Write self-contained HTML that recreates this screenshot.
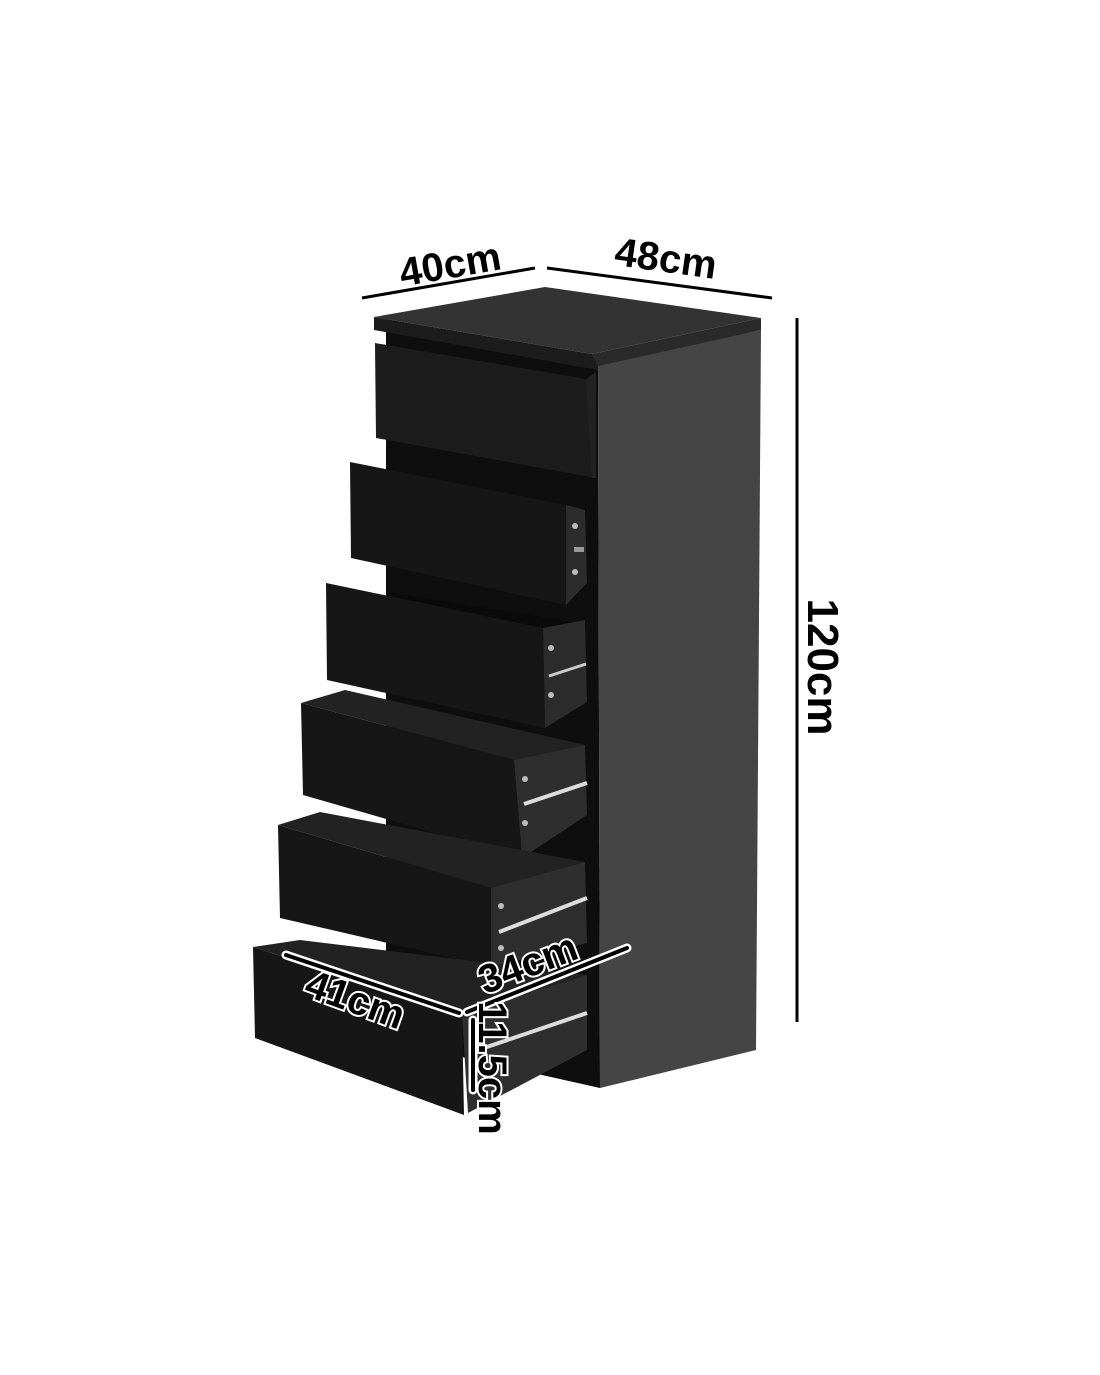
<!DOCTYPE html>
<html><head><meta charset="utf-8"><style>
html,body{margin:0;padding:0;background:#fff;}
svg{display:block;}
text{font-family:"Liberation Sans",sans-serif;font-weight:bold;}
</style></head><body>
<svg width="1100" height="1375" viewBox="0 0 1100 1375" xmlns="http://www.w3.org/2000/svg">
<rect width="1100" height="1375" fill="#fff"/>
<!-- body -->
<polygon points="386,330 598,363 600,1088 386,1040" fill="#0e0e0e"/>
<!-- side -->
<polygon points="598,363 761,330 756,1050 600,1088" fill="#454545"/>
<!-- top -->
<polygon points="374,317 545,287 761,318 592,354" fill="#333"/>
<polygon points="374,317 592,354 598,363 598,370 374,330" fill="#1c1c1c"/>
<polygon points="592,354 761,318 761,330 598,366" fill="#2a2a2a"/>
<!-- drawer1 -->
<polygon points="375,343 592,380 596,478 376,438" fill="#1c1c1c"/>
<polygon points="586,379 596,372 596,478 592,478" fill="#222"/>
<!-- drawer2 -->
<polygon points="566,505 585,510 587,583 566,605" fill="#2c2c2c"/>
<polygon points="350,462 566,505 566,605 351,558" fill="#161616"/>
<circle cx="575" cy="526" r="3" fill="#bbb"/><circle cx="575" cy="572" r="3" fill="#bbb"/>
<rect x="574" y="547" width="10" height="5" fill="#999"/>
<!-- drawer3 -->
<polygon points="386,592 585,624 587,700 545,728" fill="#0a0a0a"/>
<polygon points="543,628 585,620 587,702 545,728" fill="#2c2c2c"/>
<polygon points="326,583 543,628 545,728 327,680" fill="#161616"/>
<circle cx="551" cy="648" r="3" fill="#bbb"/><circle cx="551" cy="695" r="3" fill="#bbb"/>
<line x1="549" y1="676" x2="586" y2="664" stroke="#ccc" stroke-width="3"/>
<!-- drawer4 -->
<polygon points="301,703 345,690 585,745 514,760" fill="#222"/>
<polygon points="514,760 585,745 587,815 522,858" fill="#2e2e2e"/>
<polygon points="301,703 514,760 522,858 303,795" fill="#161616"/>
<circle cx="525" cy="779" r="3" fill="#bbb"/><circle cx="525" cy="823" r="3" fill="#bbb"/>
<line x1="524" y1="804" x2="587" y2="783" stroke="#ddd" stroke-width="4"/>
<!-- drawer5 -->
<polygon points="278,825 320,812 585,862 491,888" fill="#222"/>
<polygon points="491,888 585,862 587,943 491,967" fill="#2e2e2e"/>
<polygon points="278,825 491,888 491,967 280,918" fill="#161616"/>
<circle cx="501" cy="906" r="3" fill="#bbb"/><circle cx="501" cy="948" r="3" fill="#bbb"/>
<line x1="499" y1="932" x2="587" y2="898" stroke="#ddd" stroke-width="4"/>
<!-- drawer6 -->
<polygon points="253,947 300,940 587,975 462,1013" fill="#222"/>
<polygon points="462,1013 587,975 587,1050 468,1113" fill="#2e2e2e"/>
<polygon points="253,947 462,1013 464,1115 255,1038" fill="#161616"/>
<line x1="478" y1="1050" x2="587" y2="1013" stroke="#ddd" stroke-width="4"/>
<!-- dims -->
<line x1="362" y1="298" x2="535" y2="268" stroke="#000" stroke-width="3"/>
<line x1="547" y1="268" x2="772" y2="298" stroke="#000" stroke-width="3"/>
<text x="450" y="278" font-size="40" text-anchor="middle" transform="rotate(-10 450 264)">40cm</text>
<text x="666" y="272" font-size="40" text-anchor="middle" transform="rotate(8 666 258)">48cm</text>
<line x1="797" y1="318" x2="797" y2="1022" stroke="#000" stroke-width="3"/>
<text x="0" y="0" font-size="44" text-anchor="middle" transform="translate(808 667) rotate(90)">120cm</text>
<g stroke="#fff" stroke-width="9" stroke-linecap="round">
<line x1="286" y1="955" x2="459" y2="1013"/><line x1="467" y1="1012" x2="627" y2="948"/><line x1="473" y1="1020" x2="473" y2="1090"/>
</g>
<g stroke="#000" stroke-width="4" stroke-linecap="round">
<line x1="286" y1="955" x2="459" y2="1013"/><line x1="467" y1="1012" x2="627" y2="948"/><line x1="473" y1="1020" x2="473" y2="1090"/>
</g>
<g font-size="40" fill="#000" stroke="#fff" stroke-width="4" paint-order="stroke" text-anchor="middle">
<text x="0" y="13" transform="translate(355 1000) rotate(20)">41cm</text>
<text x="0" y="13" transform="translate(528 964) rotate(-21)">34cm</text>
<text x="0" y="13" transform="translate(492 1068) rotate(90)">11.5cm</text>
</g>
</svg>
</body></html>
